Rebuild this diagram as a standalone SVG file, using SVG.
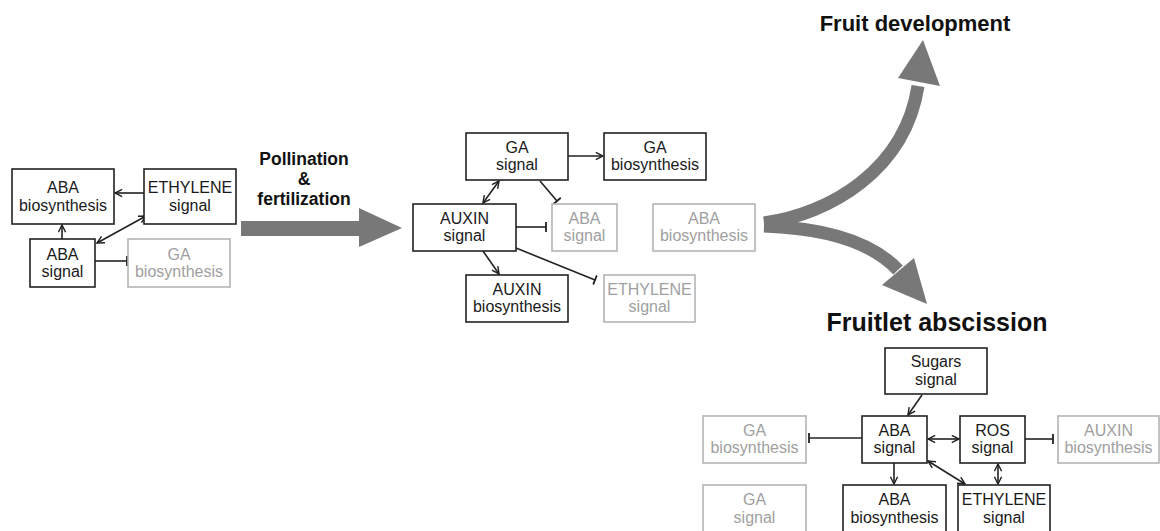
<svg xmlns="http://www.w3.org/2000/svg" width="1160" height="531" viewBox="0 0 1160 531">
<style>
.b{fill:#fff;stroke:#222;stroke-width:1.6}
.g{fill:#fff;stroke:#b4b4b4;stroke-width:1.6}
.t{font-family:"Liberation Sans",Arial,sans-serif;font-size:16px;fill:#1a1a1a;text-anchor:middle}
.gt{font-family:"Liberation Sans",Arial,sans-serif;font-size:16px;fill:#a0a0a0;text-anchor:middle}
.h{font-family:"Liberation Sans",Arial,sans-serif;font-weight:bold;fill:#111;text-anchor:middle}
.c{stroke:#222;stroke-width:1.6;fill:none}
.big{fill:#787878}
.bigs{stroke:#787878;stroke-width:13;fill:none}
</style>
<defs>
<marker id="arr" viewBox="0 0 10 10" refX="9" refY="5" markerWidth="9" markerHeight="9" markerUnits="userSpaceOnUse" orient="auto-start-reverse"><path d="M1,1 L9,5 L1,9" fill="none" stroke="#222" stroke-width="1.6"/></marker>
<marker id="tee" viewBox="0 0 4 10" refX="2" refY="5" markerWidth="4" markerHeight="10" markerUnits="userSpaceOnUse" orient="auto"><path d="M2,0 L2,10" stroke="#222" stroke-width="1.8"/></marker>
</defs>

<g id="labels">
<text class="h" x="304" y="165" font-size="17.5">Pollination</text>
<text class="h" x="304" y="185" font-size="17.5">&amp;</text>
<text class="h" x="304" y="205" font-size="17.5">fertilization</text>
<text class="h" x="915" y="31" font-size="22">Fruit development</text>
<text class="h" x="937" y="331" font-size="25">Fruitlet abscission</text>
</g>

<g id="big-arrows">
<polygon class="big" points="241,221 359,221 359,208 402,228 359,247 359,236 241,236"/>
<path class="bigs" d="M764,223 C830,214 905,170 918,86"/>
<polygon class="big" points="898,78 923,40 940,86"/>
<path class="bigs" d="M764,226 C820,228 870,240 898,270"/>
<polygon class="big" points="914,258 927,304 882,285"/>
</g>

<g id="connectors">
<line class="c" x1="144" y1="193" x2="115" y2="193" marker-end="url(#arr)"/>
<line class="c" x1="62" y1="239" x2="62" y2="225" marker-end="url(#arr)"/>
<line class="c" x1="97" y1="243" x2="146" y2="216" marker-start="url(#arr)" marker-end="url(#arr)"/>
<line class="c" x1="95" y1="261" x2="127" y2="261" marker-end="url(#tee)"/>

<line class="c" x1="568" y1="156" x2="603" y2="156" marker-end="url(#arr)"/>
<line class="c" x1="499" y1="181" x2="483" y2="203" marker-start="url(#arr)" marker-end="url(#arr)"/>
<line class="c" x1="540" y1="181" x2="557" y2="201" marker-end="url(#tee)"/>
<line class="c" x1="516" y1="227" x2="546" y2="227" marker-end="url(#tee)"/>
<line class="c" x1="483" y1="251" x2="499" y2="274" marker-end="url(#arr)"/>
<line class="c" x1="516" y1="248" x2="595" y2="280" marker-end="url(#tee)"/>

<line class="c" x1="922" y1="395" x2="908" y2="415" marker-end="url(#arr)"/>
<line class="c" x1="862" y1="438" x2="809" y2="438" marker-end="url(#tee)"/>
<line class="c" x1="928" y1="439" x2="959" y2="439" marker-start="url(#arr)" marker-end="url(#arr)"/>
<line class="c" x1="1025" y1="439" x2="1053" y2="439" marker-end="url(#tee)"/>
<line class="c" x1="894" y1="463" x2="894" y2="484" marker-end="url(#arr)"/>
<line class="c" x1="928" y1="461" x2="965" y2="484" marker-start="url(#arr)" marker-end="url(#arr)"/>
<line class="c" x1="998" y1="464" x2="998" y2="484" marker-start="url(#arr)" marker-end="url(#arr)"/>
</g>

<g id="L-aba-bio"><rect class="b" x="12" y="169" width="102" height="55"/><text class="t" x="63" y="193">ABA</text><text class="t" x="63" y="211">biosynthesis</text></g>
<g id="L-eth-sig"><rect class="b" x="144" y="169" width="92" height="55"/><text class="t" x="190" y="193">ETHYLENE</text><text class="t" x="190" y="211">signal</text></g>
<g id="L-aba-sig"><rect class="b" x="30" y="239" width="65" height="48"/><text class="t" x="62.5" y="260">ABA</text><text class="t" x="62.5" y="277">signal</text></g>
<g id="L-ga-bio"><rect class="g" x="128" y="239" width="102" height="48"/><text class="gt" x="179" y="260">GA</text><text class="gt" x="179" y="277">biosynthesis</text></g>

<g id="M-ga-sig"><rect class="b" x="466" y="133" width="102" height="47"/><text class="t" x="517" y="153">GA</text><text class="t" x="517" y="170">signal</text></g>
<g id="M-ga-bio"><rect class="b" x="604" y="133" width="102" height="47"/><text class="t" x="655" y="153">GA</text><text class="t" x="655" y="170">biosynthesis</text></g>
<g id="M-aux-sig"><rect class="b" x="413" y="204" width="103" height="47"/><text class="t" x="464.5" y="224">AUXIN</text><text class="t" x="464.5" y="241">signal</text></g>
<g id="M-aba-sig"><rect class="g" x="552" y="204" width="65" height="47"/><text class="gt" x="584.5" y="224">ABA</text><text class="gt" x="584.5" y="241">signal</text></g>
<g id="M-aba-bio"><rect class="g" x="653" y="204" width="102" height="47"/><text class="gt" x="704" y="224">ABA</text><text class="gt" x="704" y="241">biosynthesis</text></g>
<g id="M-aux-bio"><rect class="b" x="466" y="275" width="102" height="47"/><text class="t" x="517" y="295">AUXIN</text><text class="t" x="517" y="312">biosynthesis</text></g>
<g id="M-eth-sig"><rect class="g" x="604" y="275" width="91" height="47"/><text class="gt" x="649.5" y="295">ETHYLENE</text><text class="gt" x="649.5" y="312">signal</text></g>

<g id="R-sug-sig"><rect class="b" x="885" y="348" width="102" height="46"/><text class="t" x="936" y="367">Sugars</text><text class="t" x="936" y="385">signal</text></g>
<g id="R-ga-bio"><rect class="g" x="703" y="416" width="103" height="47"/><text class="gt" x="754.5" y="436">GA</text><text class="gt" x="754.5" y="453">biosynthesis</text></g>
<g id="R-aba-sig"><rect class="b" x="862" y="416" width="65" height="47"/><text class="t" x="894.5" y="436">ABA</text><text class="t" x="894.5" y="453">signal</text></g>
<g id="R-ros-sig"><rect class="b" x="960" y="416" width="65" height="47"/><text class="t" x="992.5" y="436">ROS</text><text class="t" x="992.5" y="453">signal</text></g>
<g id="R-aux-bio"><rect class="g" x="1058" y="416" width="101" height="47"/><text class="gt" x="1108.5" y="436">AUXIN</text><text class="gt" x="1108.5" y="453">biosynthesis</text></g>
<g id="R-ga-sig"><rect class="g" x="703" y="485" width="103" height="52"/><text class="gt" x="754.5" y="505">GA</text><text class="gt" x="754.5" y="523">signal</text></g>
<g id="R-aba-bio"><rect class="b" x="843" y="485" width="103" height="52"/><text class="t" x="894.5" y="505">ABA</text><text class="t" x="894.5" y="523">biosynthesis</text></g>
<g id="R-eth-sig"><rect class="b" x="958" y="485" width="92" height="52"/><text class="t" x="1004" y="505">ETHYLENE</text><text class="t" x="1004" y="523">signal</text></g>
</svg>
